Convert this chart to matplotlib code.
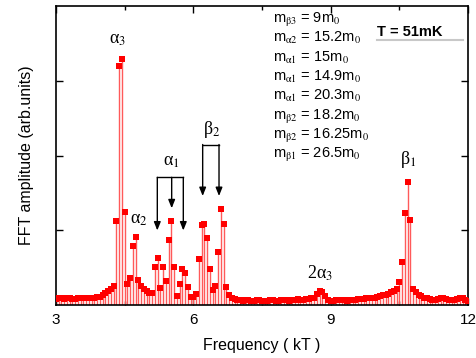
import numpy as np
import matplotlib
matplotlib.use("Agg")
import matplotlib.pyplot as plt

plt.rcParams['font.family'] = ['Liberation Sans', 'DejaVu Sans']
plt.rcParams['mathtext.fontset'] = 'stix'

# FFT amplitude sampled on a uniform frequency grid from 3 to 12 kT
f_start, f_stop = 3.0, 12.0
amplitude = [
    0.08, 0.09, 0.09, 0.08, 0.09, 0.09, 0.08, 0.08, 0.09, 0.09,
    0.09, 0.09, 0.10, 0.10, 0.10, 0.11, 0.11, 0.13, 0.16, 0.19,
    0.21, 0.25, 1.12, 3.20, 3.29, 1.25, 0.28, 0.36, 0.79, 0.91,
    0.33, 0.25, 0.21, 0.19, 0.16, 0.16, 0.51, 0.63, 0.23, 0.51,
    0.32, 0.87, 1.12, 0.51, 0.12, 0.28, 0.48, 0.43, 0.24, 0.11,
    0.11, 0.15, 0.61, 1.07, 1.09, 0.89, 0.48, 0.20, 0.25, 0.71,
    1.29, 1.09, 0.24, 0.13, 0.09, 0.08, 0.07, 0.07, 0.06, 0.07,
    0.07, 0.06, 0.06, 0.07, 0.07, 0.06, 0.06, 0.06, 0.07, 0.07,
    0.06, 0.06, 0.07, 0.07, 0.07, 0.06, 0.07, 0.07, 0.08, 0.07,
    0.07, 0.08, 0.08, 0.09, 0.10, 0.15, 0.19, 0.17, 0.12, 0.07,
    0.06, 0.06, 0.07, 0.07, 0.07, 0.07, 0.06, 0.07, 0.07, 0.07,
    0.08, 0.08, 0.08, 0.09, 0.09, 0.10, 0.10, 0.11, 0.12, 0.13,
    0.14, 0.15, 0.17, 0.19, 0.22, 0.31, 0.58, 1.23, 1.64, 1.14,
    0.22, 0.17, 0.14, 0.12, 0.10, 0.09, 0.08, 0.07, 0.07, 0.08,
    0.10, 0.09, 0.08, 0.07, 0.07, 0.07, 0.08, 0.10, 0.09, 0.07,
    0.06,
]
freq = np.linspace(f_start, f_stop, len(amplitude))

mass_labels = [
    r"m$_{\mathrm{\beta}3}$ = 9m$_0$",
    r"m$_{\mathrm{\alpha}2}$ = 15.2m$_0$",
    r"m$_{\mathrm{\alpha}1}$ = 15m$_0$",
    r"m$_{\mathrm{\alpha}1}$ = 14.9m$_0$",
    r"m$_{\mathrm{\alpha}1}$ = 20.3m$_0$",
    r"m$_{\mathrm{\beta}2}$ = 18.2m$_0$",
    r"m$_{\mathrm{\beta}2}$ = 16.25m$_0$",
    r"m$_{\mathrm{\beta}1}$ = 26.5m$_0$",
]
x_ticks = [3, 6, 9, 12]
x_minor = [4.5, 7.5, 10.5]
y_ticks = [1, 2, 3]

fig = plt.figure(figsize=(4.77, 3.58), dpi=100)
ax = fig.add_axes([56/477, 53/358, 412/477, 299/358])

red = '#ff0000'
ax.vlines(freq, 0, amplitude, colors='#ff5a5a', linewidth=1.0, zorder=2)
ax.plot(freq, amplitude, linestyle='none', marker='s', markersize=4.8,
        color=red, markeredgewidth=0, zorder=3)

ax.set_xlim(3, 12)
ax.set_ylim(0, 4)
ax.set_xticks(x_ticks)
ax.set_xticks(x_minor, minor=True)
ax.set_yticks(y_ticks)
ax.set_yticklabels([])
ax.tick_params(which='both', direction='in', top=True, right=True,
               labelsize=11, width=1.0)
ax.tick_params(which='major', length=5)
ax.tick_params(which='minor', length=3)
ax.tick_params(axis='x', pad=6)
for s in ax.spines.values():
    s.set_linewidth(1.2)

ax.set_xlabel('Frequency ( kT )', fontsize=11.5, labelpad=8)
ax.set_ylabel('FFT amplitude (arb.units)', fontsize=11.5, labelpad=12)

# peak labels
lkw = dict(fontsize=13, ha='center', va='center', family='Liberation Serif')
ax.text(4.354, 3.55, r'α$_3$', **lkw)
ax.text(4.81, 1.14, r'α$_2$', **lkw)
ax.text(5.53, 1.92, r'α$_1$', **lkw)
ax.text(6.41, 2.35, r'β$_2$', **lkw)
ax.text(8.77, 0.42, r'2α$_3$', **lkw)
ax.text(10.69, 1.94, r'β$_1$', **lkw)

# brackets with arrows
akw = dict(arrowstyle='-|>,head_length=0.5,head_width=0.2', color='black', lw=1.0,
           shrinkA=0, shrinkB=0)
ax.plot([5.213, 5.781], [1.708, 1.708], color='black', lw=1.0)
for xa, ytip in [(5.213, 0.997), (5.527, 1.294), (5.781, 0.997)]:
    ax.annotate('', xy=(xa, ytip), xytext=(xa, 1.708), arrowprops=akw)
ax.plot([6.204, 6.561], [2.147, 2.147], color='black', lw=1.0)
for xa in [6.204, 6.561]:
    ax.annotate('', xy=(xa, 1.458), xytext=(xa, 2.147), arrowprops=akw)

# effective mass list
for i, lab in enumerate(mass_labels):
    y_px = 23 + 19.3 * i
    ax.text(273/477, 1 - y_px/358, lab, transform=fig.transFigure,
            fontsize=10.5, ha='left', va='baseline')

fig.text(377/477, 1 - 36/358, 'T = 51mK', fontsize=10.5, fontweight='bold',
         ha='left', va='baseline')
fig.add_artist(plt.Line2D([377/477, 463/477], [1 - 39.5/358, 1 - 39.5/358],
                          color='#c8c8c8', lw=1.5, transform=fig.transFigure))

fig.savefig('out.png', dpi=100)
